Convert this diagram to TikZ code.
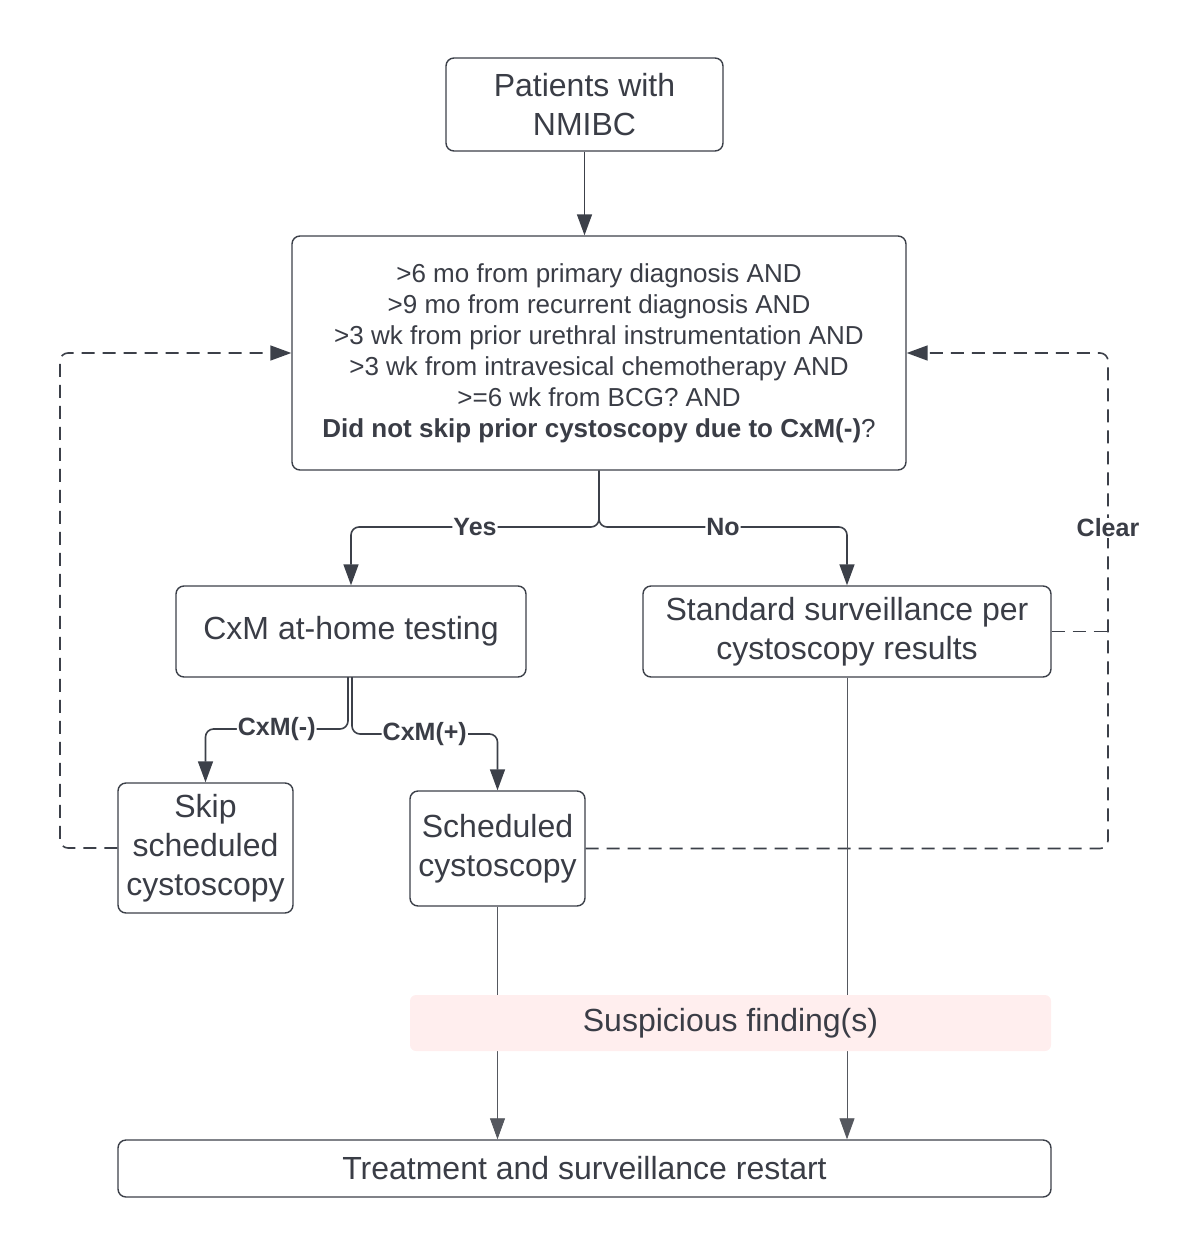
\documentclass[tikz,border=0pt]{standalone}
\usepackage{fontspec}
\setmainfont{Liberation Sans}
\usetikzlibrary{arrows.meta}
\definecolor{ink}{HTML}{3A3D46}
\definecolor{edge}{HTML}{3C4049}
\definecolor{thin}{HTML}{55585F}
\definecolor{pinkfill}{HTML}{FFEEEE}
\begin{document}
\begin{tikzpicture}[x=1pt,y=-1pt,
  box/.style={draw=edge, line width=1.4pt, rounded corners=8pt, fill=white, text=ink,
    align=center, inner sep=0pt, font=\fontsize{32}{39}\selectfont},
  tip/.style={-{Triangle[length=21pt,width=15pt]}},
  conn/.style={draw=edge, line width=1.6pt, rounded corners=8pt, tip},
  thinconn/.style={draw=thin, line width=0.8pt, tip},
  dconn/.style={draw=edge, line width=1.6pt, rounded corners=8pt,
    dash pattern=on 13pt off 8pt},
  lbl/.style={fill=white, text=ink, inner sep=1pt, font=\fontsize{25}{30}\bfseries\selectfont}
]
\useasboundingbox (0,0) rectangle (1200,1256);

\node[box, minimum width=277pt, minimum height=93pt] (pat) at (584.5,104.5) {Patients with\\NMIBC};
\node[box, minimum width=614pt, minimum height=234pt, font=\fontsize{26}{31}\selectfont] (crit) at (599,353)
  {>6 mo from primary diagnosis AND\\
   >9 mo from recurrent diagnosis AND\\
   >3 wk from prior urethral instrumentation AND\\
   >3 wk from intravesical chemotherapy AND\\
   >=6 wk from BCG? AND\\
   \textbf{Did not skip prior cystoscopy due to CxM(-)}?};
\node[box, minimum width=350pt, minimum height=91pt] (cxm) at (351,631.5) {CxM at-home testing};
\node[box, minimum width=408pt, minimum height=91pt] (std) at (847,631.5) {Standard surveillance per\\cystoscopy results};
\node[box, minimum width=175pt, minimum height=130pt] (skip) at (205.5,848) {Skip\\scheduled\\cystoscopy};
\node[box, minimum width=175pt, minimum height=115pt] (sched) at (497.5,848.5) {Scheduled\\cystoscopy};
\node[box, minimum width=933pt, minimum height=57pt] (treat) at (584.5,1168.5) {Treatment and surveillance restart};

\coordinate (split) at (599,527);
\coordinate (lx) at (60,353);
\coordinate (rx) at (1108,353);
\coordinate (cxmL) at (348,677);
\coordinate (cxmR) at (352,677);

% top arrow
\draw[conn] (pat.south) -- (pat.south |- crit.north);
% Yes / No
\draw[conn] (crit.south) -- (split) -- node[lbl]{Yes} (split -| cxm.north) -- (cxm.north);
\draw[conn] (crit.south) -- (split) -- node[lbl]{No} (split -| std.north) -- (std.north);
% CxM(-) / CxM(+)
\draw[conn] (cxmL) -- (348,729) -- node[lbl]{CxM(-)} (skip.north |- 0,729) -- (skip.north);
\draw[conn] (cxmR) -- (352,734) -- node[lbl]{CxM(+)} (sched.north |- 0,734) -- (sched.north);

% dashed feedback loops
\draw[dconn, tip] (skip.west) -| (lx) -- (crit.west);
\draw[dconn, tip] (sched.east) -| (rx) -- (crit.east);
\draw[dconn] (std.east) -- (std.east -| rx);
\node[lbl] (clear) at (1108,528) {Clear};

% thin connectors to treatment
\draw[thinconn] (sched.south) -- (sched.south |- treat.north);
\draw[thinconn] (std.south) -- (std.south |- treat.north);

\node[fill=pinkfill, rounded corners=6pt, text=ink, minimum width=641pt, minimum height=56pt,
  inner sep=0pt, font=\fontsize{32}{39}\selectfont] (susp) at (730.5,1023) {Suspicious finding(s)};
\end{tikzpicture}
\end{document}
